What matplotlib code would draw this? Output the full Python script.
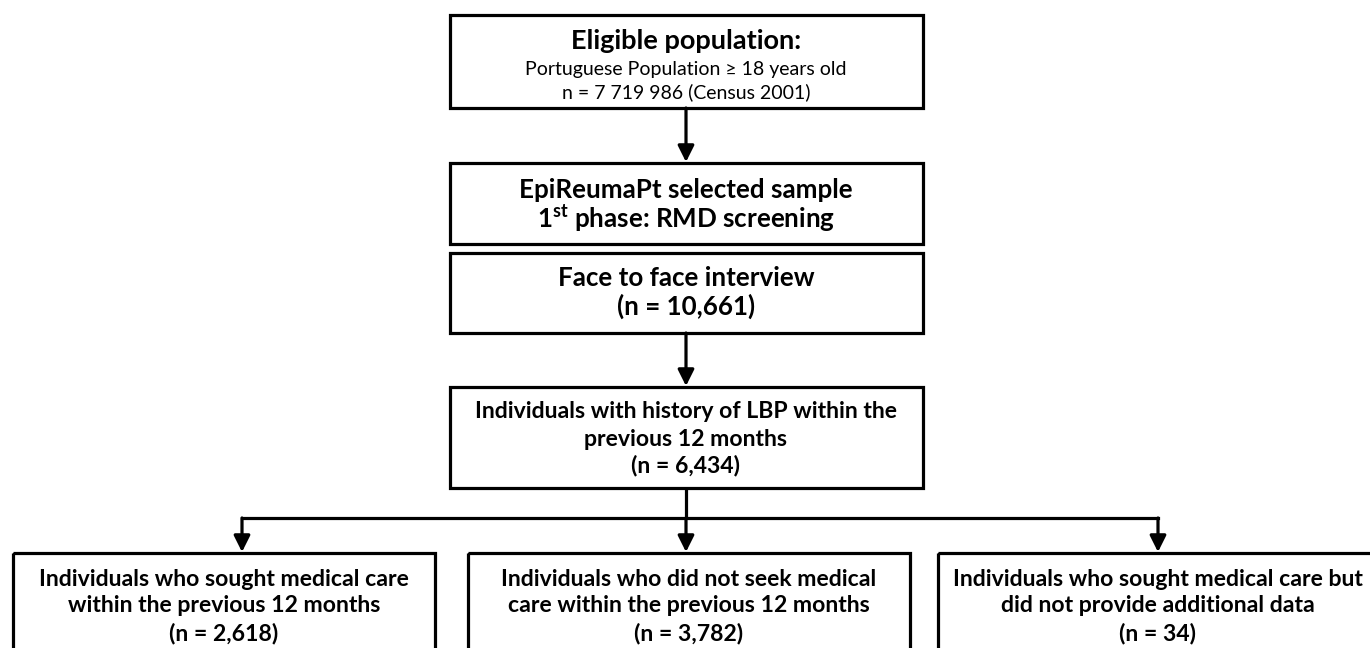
import matplotlib
matplotlib.use("Agg")
import matplotlib.pyplot as plt
from matplotlib.patches import Rectangle, FancyArrowPatch

plt.rcParams['font.family'] = ['Lato', 'DejaVu Sans']
plt.rcParams['mathtext.fontset'] = 'custom'
plt.rcParams['mathtext.rm'] = 'Lato'
plt.rcParams['mathtext.bf'] = 'Lato:bold'

# box texts (top to bottom)
eligible_title = "Eligible population:"
eligible_lines = ["Portuguese Population \u2265 18 years old",
                  "n = 7 719 986 (Census 2001)"]
sample_lines = ["EpiReumaPt selected sample",
                "1$^{\\mathbf{st}}$ phase: RMD screening"]
interview_lines = ["Face to face interview", "(n = 10,661)"]
lbp_lines = ["Individuals with history of LBP within the",
             "previous 12 months", "(n = 6,434)"]
branch_labels = [
    ["Individuals who sought medical care",
     "within the previous 12 months", "(n = 2,618)"],
    ["Individuals who did not seek medical",
     "care within the previous 12 months", "(n = 3,782)"],
    ["Individuals who sought medical care but",
     "did not provide additional data", "(n = 34)"],
]

W, H = 1370, 648
fig = plt.figure(figsize=(W / 100, H / 100), dpi=100)
ax = fig.add_axes([0, 0, 1, 1])
ax.set_xlim(0, W)
ax.set_ylim(H, 0)
ax.axis('off')

LW = 2.3


def box(x0, y0, x1, y1):
    ax.add_patch(Rectangle((x0, y0), x1 - x0, y1 - y0, fill=False,
                           edgecolor='black', linewidth=LW))


def arrow(x, y0, y1):
    ax.add_patch(FancyArrowPatch((x, y0), (x, y1),
                                 arrowstyle='-|>,head_length=0.7,head_width=0.35',
                                 mutation_scale=14, color='black',
                                 linewidth=LW, shrinkA=0, shrinkB=0))


def lines(x, ys, texts, size, weight='bold'):
    for y, t in zip(ys, texts):
        ax.text(x, y, t, ha='center', va='center', fontsize=size,
                fontweight=weight, color='black')


cx = 686
# central column
box(450, 15, 923, 108)
lines(cx, [41], [eligible_title], 19.5)
lines(cx, [69, 92], eligible_lines, 14, weight='normal')
arrow(cx, 108, 162)

box(450, 163, 923, 244)
lines(cx, [190, 218], sample_lines, 18.7)

box(450, 253, 923, 333)
lines(cx, [278, 306], interview_lines, 18.7)
arrow(cx, 333, 386)

box(450, 387, 923, 488)
lines(cx, [412, 439, 466], lbp_lines, 16.6)

# branch
ax.plot([cx, cx], [488, 518], color='black', linewidth=LW, solid_capstyle='butt')
ax.plot([242, 1158], [518, 518], color='black', linewidth=LW,
        solid_capstyle='projecting')

bottom_boxes = [(13, 435), (468, 910), (938, 1378)]
arrow_x = [242, cx, 1158]
for (x0, x1), ax_x, labels in zip(bottom_boxes, arrow_x, branch_labels):
    arrow(ax_x, 518, 552)
    box(x0, 553, x1, 700)
    lines((x0 + x1) / 2, [579, 606, 633], labels, 16.6)

fig.savefig('out.png', dpi=100, facecolor='white')
